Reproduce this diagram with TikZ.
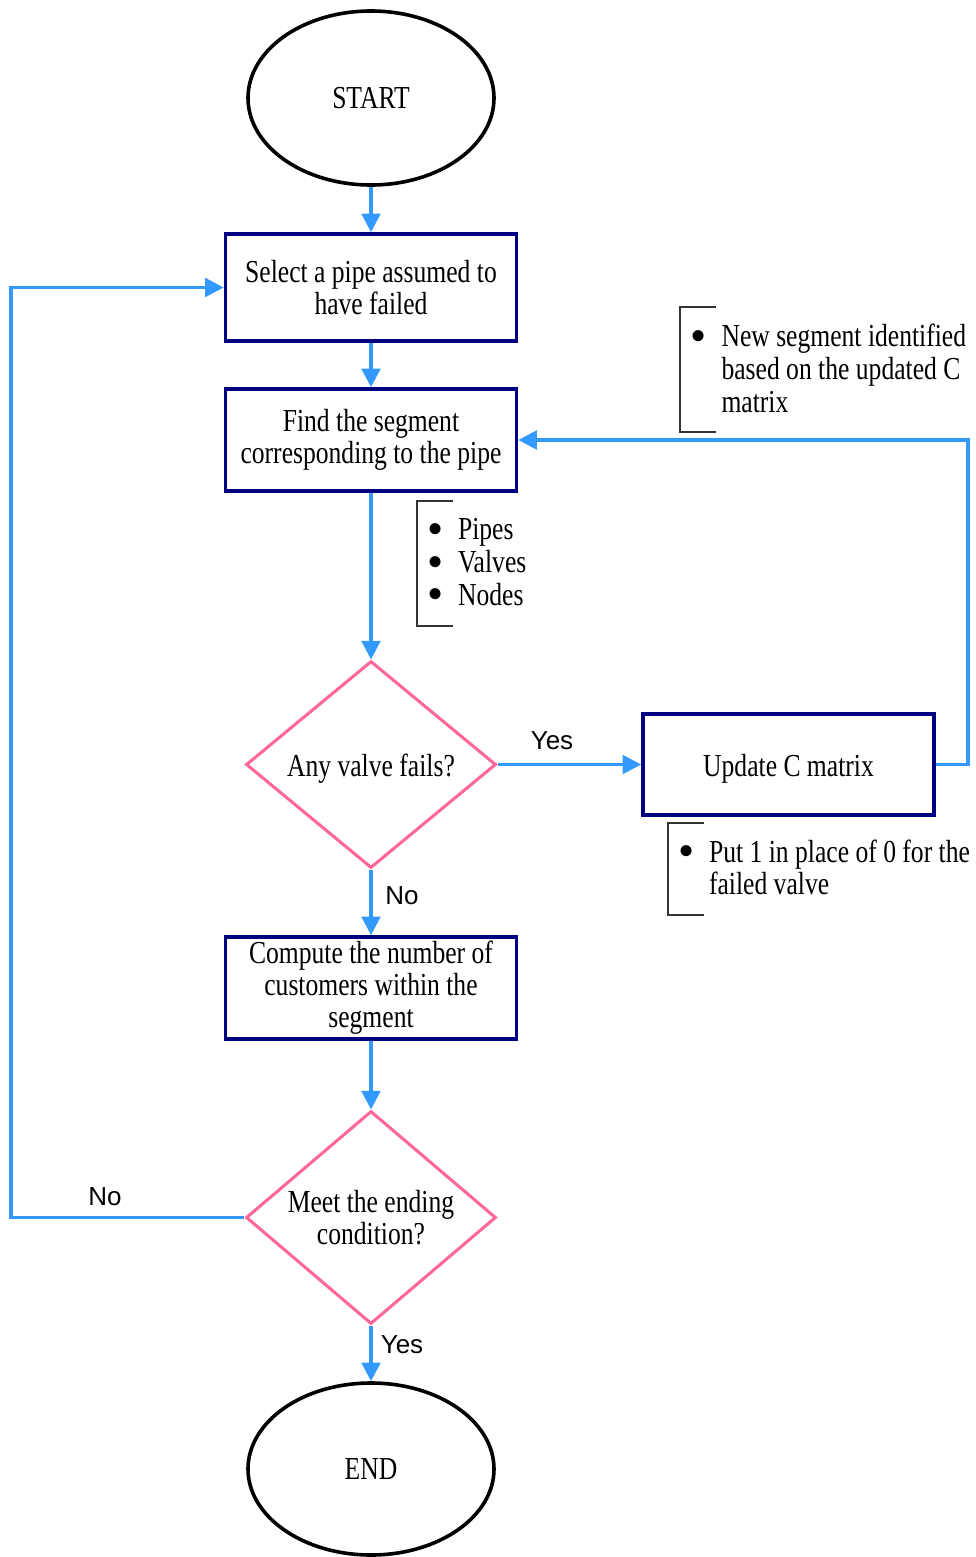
\documentclass[tikz,border=0pt]{standalone}
\usepackage{graphicx}
\usepackage{fontspec}
\setmainfont{Liberation Serif}[FakeStretch=0.8]
\newfontfamily\labelfont{Liberation Sans}
\usetikzlibrary{shapes.geometric,arrows.meta}
\definecolor{flowblue}{HTML}{3399FF}
\definecolor{boxnavy}{HTML}{000080}
\definecolor{decpink}{HTML}{FF6699}
\definecolor{notegray}{HTML}{333333}
\newcommand{\notebullet}{\raisebox{-0.14em}[0.5em][0pt]{\scalebox{1.8}[1.45]{\textbullet}}}
\newcommand{\lowered}[1]{\raisebox{-0.12em}[\height][\depth]{#1}}

\begin{document}
\begin{tikzpicture}[x=0.75pt,y=-0.75pt,
  every node/.style={inner sep=0pt},
  txt/.style={font=\fontsize{24}{24}\selectfont, align=center},
  process/.style={txt, rectangle, draw=boxnavy, line width=2.7pt, minimum width=218.25pt},
  terminal/.style={txt, ellipse, draw=black, line width=2.7pt, minimum width=184.5pt},
  decision/.style={txt, diamond, aspect=1.2, draw=decpink, line width=2.3pt, minimum width=187.5pt},
  flow/.style={draw=flowblue, line width=2.6pt, -{Triangle[length=14pt,width=14pt]}},
  answer/.style={font=\labelfont\fontsize{19.5}{19.5}\selectfont},
  note/.style={font=\fontsize{24}{24.5}\selectfont, anchor=west},
  bracket/.style={draw=notegray, line width=0.9pt}]

\useasboundingbox (0,0) rectangle (975,1557);

% main flow
\node[terminal, minimum height=130.5pt] (start) at (371,98) {START};
\node[process, minimum height=80.25pt] (select) at (371,287.5) {Select a pipe assumed to\\have failed};
\node[process, minimum height=76.5pt] (find) at (371,440) {Find the segment\\corresponding to the pipe};
\node[decision, minimum height=155.25pt] (valve) at (371,764.5) {\lowered{Any valve fails?}};
\node[process, minimum height=75.75pt] (update) at (788.5,764.5) {\lowered{Update C matrix}};
\node[process, minimum height=76.5pt] (count) at (371,988) {Compute the number of\\customers within the\\segment};
\node[decision, minimum height=159.75pt] (ending) at (371,1217.5) {Meet the ending\\condition?};
\node[terminal, minimum height=129pt] (finish) at (371,1469) {END};

\coordinate (rturn) at (968,764.5);
\coordinate (lturn) at (11,1217.5);

% connectors
\draw[flow] (start) -- (select);
\draw[flow] (select) -- (find);
\draw[flow] (find) -- (valve);
\draw[flow] (valve) -- (update);
\draw[flow] (update.east) -- (rturn) |- (find.east);
\draw[flow] (valve) -- (count);
\draw[flow] (count) -- (ending);
\draw[flow] (ending.west) -- (lturn) |- (select.west);
\draw[flow] (ending) -- (finish);

% branch labels
\node[answer] (yes1) at (552,741) {Yes};
\node[answer] (no1) at (402,896) {No};
\node[answer] (no2) at (105,1197) {No};
\node[answer] (yes2) at (402,1345) {Yes};

% side notes
\draw[bracket] (716,307) -- (680,307) -- (680,432) -- (716,432);
\node[note] (note1) at (690.5,373) {\begin{tabular}{@{}l@{\hspace{11pt}}l@{}}\notebullet & New segment identified\\ & based on the updated C\\ & matrix\end{tabular}};

\draw[bracket] (453,501) -- (417,501) -- (417,626) -- (453,626);
\node[note] (note2) at (427,566) {\begin{tabular}{@{}l@{\hspace{11pt}}l@{}}\notebullet & Pipes\\ \notebullet & Valves\\ \notebullet & Nodes\end{tabular}};

\draw[bracket] (704,823) -- (668,823) -- (668,915) -- (704,915);
\node[note] (note3) at (678,872) {\begin{tabular}{@{}l@{\hspace{11pt}}l@{}}\notebullet & Put 1 in place of 0 for the\\ & failed valve\end{tabular}};
\end{tikzpicture}
\end{document}
